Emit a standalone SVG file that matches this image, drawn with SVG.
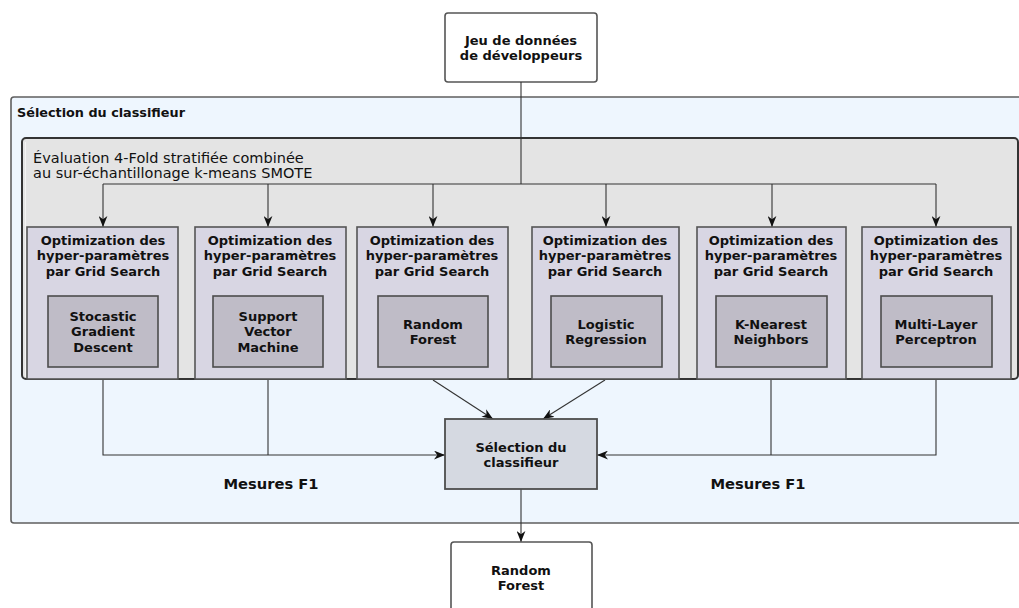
<svg xmlns="http://www.w3.org/2000/svg" width="1019" height="608" viewBox="0 0 1019 608">
  <style>
    text { font-family: "DejaVu Sans", "Liberation Sans", sans-serif; fill: #111; }
    .b { font-weight: bold; }
    .c { text-anchor: middle; }
    .t13 { font-size: 13px; }
    .t14 { font-size: 14.5px; }
    .t15 { font-size: 14.7px; }
    .white { fill: #ffffff; stroke: #555555; stroke-width: 1.6; }
    .opt { fill: #d8d6e3; stroke: #555555; stroke-width: 1.6; }
    .algo { fill: #bfbcc7; stroke: #4d4d4d; stroke-width: 1.6; }
    .sel { fill: #d5d9e1; stroke: #4d4d4d; stroke-width: 1.8; }
    .wire { fill: none; stroke: #333333; stroke-width: 1.1; }
  </style>
  <defs>
    <marker id="arrow" viewBox="0 0 10 8" refX="10" refY="4" markerWidth="11" markerHeight="9" orient="auto" markerUnits="userSpaceOnUse">
      <path d="M0,0 L10,4 L0,8 L3,4 Z" fill="#111111"/>
    </marker>
  </defs>

  <!-- outer container -->
  <g id="container-selection">
    <rect x="11" y="97" width="1030" height="426" rx="3" fill="#eef6fe" stroke="#5f5f5f" stroke-width="1.6"/>
    <text class="b" font-size="12.8" x="17" y="117">Sélection du classifieur</text>
  </g>

  <!-- inner container -->
  <g id="container-evaluation">
    <rect x="22" y="138" width="996" height="241" rx="4" fill="#e4e4e4" stroke="#333333" stroke-width="2"/>
    <path d="M25.5,142 V377" stroke="#f4f4f4" stroke-width="1"/>
    <text class="t14" x="33" y="163">Évaluation 4-Fold stratifiée combinée</text>
    <text class="t14" x="33" y="178">au sur-échantillonage k-means SMOTE</text>
  </g>

  <!-- dataset input -->
  <g id="node-dataset">
    <rect class="white" x="445" y="13" width="152" height="69" rx="3"/>
    <text class="b t13 c" x="521" y="45">Jeu de données</text>
    <text class="b t13 c" x="521" y="60">de développeurs</text>
  </g>

  <!-- connectors -->
  <g id="connectors">
    <path class="wire" d="M521,82 V184"/>
    <path class="wire" d="M103,184 H936"/>
    <path class="wire" d="M103,184 V227" marker-end="url(#arrow)"/>
    <path class="wire" d="M268,184 V227" marker-end="url(#arrow)"/>
    <path class="wire" d="M433,184 V227" marker-end="url(#arrow)"/>
    <path class="wire" d="M606,184 V227" marker-end="url(#arrow)"/>
    <path class="wire" d="M772,184 V227" marker-end="url(#arrow)"/>
    <path class="wire" d="M936,184 V227" marker-end="url(#arrow)"/>

    <path class="wire" d="M103,380 V455 H445" marker-end="url(#arrow)"/>
    <path class="wire" d="M268,380 V455"/>
    <path class="wire" d="M936,380 V455 H597" marker-end="url(#arrow)"/>
    <path class="wire" d="M771,380 V455"/>
    <path class="wire" d="M433,380 L493,419" marker-end="url(#arrow)"/>
    <path class="wire" d="M605,380 L543,419" marker-end="url(#arrow)"/>

    <path class="wire" d="M521,489 V542" marker-end="url(#arrow)"/>
  </g>

  <!-- grid search blocks -->
  <g id="node-sgd">
    <rect class="opt" x="27" y="227" width="151" height="152"/>
    <text class="b t13 c" x="103" y="245">Optimization des</text>
    <text class="b t13 c" x="103" y="260">hyper-paramètres</text>
    <text class="b t13 c" x="103" y="276">par Grid Search</text>
    <rect class="algo" x="48" y="296" width="110" height="71"/>
    <text class="b t13 c" x="103" y="321">Stocastic</text>
    <text class="b t13 c" x="103" y="336">Gradient</text>
    <text class="b t13 c" x="103" y="352">Descent</text>
  </g>
  <g id="node-svm">
    <rect class="opt" x="195" y="227" width="151" height="152"/>
    <text class="b t13 c" x="270" y="245">Optimization des</text>
    <text class="b t13 c" x="270" y="260">hyper-paramètres</text>
    <text class="b t13 c" x="270" y="276">par Grid Search</text>
    <rect class="algo" x="213" y="296" width="110" height="71"/>
    <text class="b t13 c" x="268" y="321">Support</text>
    <text class="b t13 c" x="268" y="336">Vector</text>
    <text class="b t13 c" x="268" y="352">Machine</text>
  </g>
  <g id="node-rf">
    <rect class="opt" x="357" y="227" width="151" height="152"/>
    <text class="b t13 c" x="432" y="245">Optimization des</text>
    <text class="b t13 c" x="432" y="260">hyper-paramètres</text>
    <text class="b t13 c" x="432" y="276">par Grid Search</text>
    <rect class="algo" x="378" y="296" width="110" height="71"/>
    <text class="b t13 c" x="433" y="329">Random</text>
    <text class="b t13 c" x="433" y="344">Forest</text>
  </g>
  <g id="node-lr">
    <rect class="opt" x="532" y="227" width="147" height="152"/>
    <text class="b t13 c" x="605" y="245">Optimization des</text>
    <text class="b t13 c" x="605" y="260">hyper-paramètres</text>
    <text class="b t13 c" x="605" y="276">par Grid Search</text>
    <rect class="algo" x="551" y="296" width="111" height="71"/>
    <text class="b t13 c" x="606" y="329">Logistic</text>
    <text class="b t13 c" x="606" y="344">Regression</text>
  </g>
  <g id="node-knn">
    <rect class="opt" x="697" y="227" width="149" height="152"/>
    <text class="b t13 c" x="771" y="245">Optimization des</text>
    <text class="b t13 c" x="771" y="260">hyper-paramètres</text>
    <text class="b t13 c" x="771" y="276">par Grid Search</text>
    <rect class="algo" x="716" y="296" width="111" height="71"/>
    <text class="b t13 c" x="771" y="329">K-Nearest</text>
    <text class="b t13 c" x="771" y="344">Neighbors</text>
  </g>
  <g id="node-mlp">
    <rect class="opt" x="862" y="227" width="149" height="152"/>
    <text class="b t13 c" x="936" y="245">Optimization des</text>
    <text class="b t13 c" x="936" y="260">hyper-paramètres</text>
    <text class="b t13 c" x="936" y="276">par Grid Search</text>
    <rect class="algo" x="881" y="296" width="111" height="71"/>
    <text class="b t13 c" x="936" y="329">Multi-Layer</text>
    <text class="b t13 c" x="936" y="344">Perceptron</text>
  </g>

  <!-- selection -->
  <g id="node-selection">
    <rect class="sel" x="445" y="419" width="152" height="70"/>
    <text class="b t13 c" x="521" y="452">Sélection du</text>
    <text class="b t13 c" x="521" y="467">classifieur</text>
  </g>

  <g id="labels-f1">
    <text class="b t15 c" x="271" y="489">Mesures F1</text>
    <text class="b t15 c" x="758" y="489">Mesures F1</text>
  </g>

  <!-- result -->
  <g id="node-result">
    <rect class="white" x="451" y="542" width="141" height="80" rx="3"/>
    <text class="b t13 c" x="521" y="575">Random</text>
    <text class="b t13 c" x="521" y="590">Forest</text>
  </g>
</svg>
